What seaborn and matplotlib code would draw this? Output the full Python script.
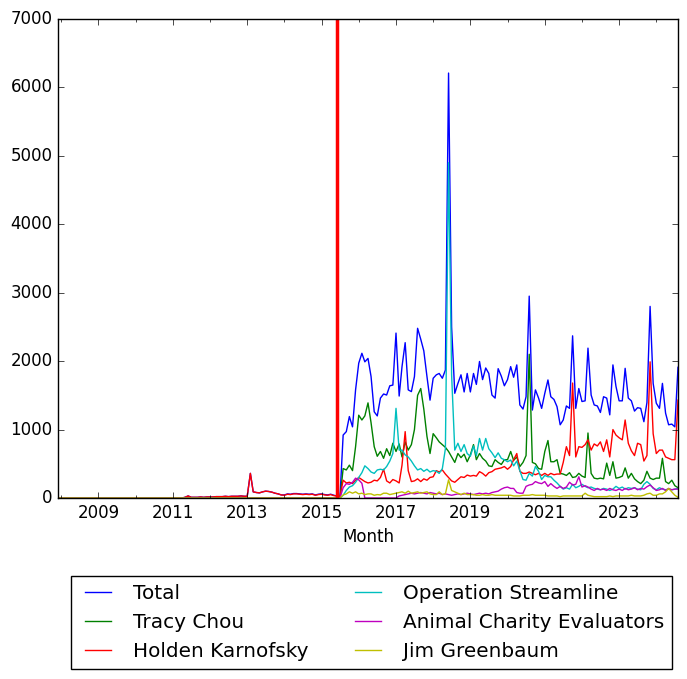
# Monthly donation totals by donor, with the event line in mid-2015

import matplotlib
matplotlib.use("Agg")
import matplotlib.pyplot as plt
import matplotlib.dates as mdates
import seaborn as sns
import pandas as pd

months = pd.date_range("2007-12-01", "2024-08-01", freq="MS")
event_date = pd.Timestamp("2015-06-01")

total = [
    0,  # 2007-12
    0, 0, 0, 0, 0, 0, 0, 0, 0, 0, 0, 0,  # 2008
    0, 0, 0, 0, 0, 0, 0, 0, 0, 0, 0, 0,  # 2009
    0, 0, 0, 0, 0, 0, 0, 0, 0, 0, 0, 0,  # 2010
    0, 0, 0, 0, 10, 30, 10, 10, 10, 15, 10, 15,  # 2011
    15, 15, 20, 20, 20, 25, 20, 25, 25, 25, 30, 25,  # 2012
    25, 360, 90, 80, 75, 90, 100, 95, 85, 70, 60, 45,  # 2013
    45, 60, 55, 65, 65, 60, 55, 60, 55, 60, 45, 55,  # 2014
    60, 50, 45, 55, 40, 30, 20, 920, 970, 1190, 1040, 1580,  # 2015
    1970, 2115, 1990, 2040, 1775, 1260, 1200, 1460, 1520, 1505, 1640, 1650,  # 2016
    2410, 1490, 1920, 2270, 1580, 1555, 1775, 2480, 2320, 2150, 1775, 1430,  # 2017
    1750, 1800, 1820, 1750, 1870, 6210, 2500, 1530, 1675, 1800, 1550, 1820,  # 2018
    1550, 1820, 1660, 1995, 1730, 1900, 1820, 1505, 1460, 1890, 1780, 1640,  # 2019
    1730, 1920, 1765, 1945, 1360, 1300, 1480, 2950, 1285, 1580, 1460, 1310,  # 2020
    1530, 1725, 1480, 1440, 1335, 1070, 1140, 1345, 1310, 2370, 1310, 1600,  # 2021
    1410, 1420, 2190, 1505, 1360, 1345, 1250, 1480, 1460, 1215, 1945, 1630,  # 2022
    1420, 1420, 1895, 1460, 1420, 1270, 1320, 1310, 1115, 1395, 2800, 1675,  # 2023
    1385, 1310, 1675, 1240, 1070, 1080, 1040, 1910,  # 2024
]

tracy_chou = [
    0,
    0, 0, 0, 0, 0, 0, 0, 0, 0, 0, 0, 0,
    0, 0, 0, 0, 0, 0, 0, 0, 0, 0, 0, 0,
    0, 0, 0, 0, 0, 0, 0, 0, 0, 0, 0, 0,
    0, 0, 0, 0, 0, 0, 0, 0, 0, 0, 0, 0,
    0, 0, 0, 0, 0, 0, 0, 0, 0, 0, 0, 0,
    0, 0, 0, 0, 0, 0, 0, 0, 0, 0, 0, 0,
    0, 0, 0, 0, 0, 0, 0, 0, 0, 0, 0, 0,
    0, 0, 0, 0, 0, 0, 0, 430, 410, 480, 400, 750,
    1210, 1140, 1200, 1390, 1100, 750, 610, 680, 580, 720, 620, 800,
    680, 790, 600, 820, 700, 780, 1000, 1500, 1600, 1300, 900, 650,
    940, 880, 820, 780, 740, 680, 600, 520, 650, 590, 640, 530,
    630, 780, 560, 650, 580, 540, 470, 460, 560, 520, 490, 560,
    560, 680, 550, 600, 460, 520, 620, 2100, 520, 500, 430, 420,
    680, 840, 530, 530, 560, 360, 350, 330, 370, 300, 310, 360,
    320, 300, 950, 360, 290, 280, 290, 280, 510, 330, 530, 290,
    300, 320, 440, 290, 360, 280, 240, 210, 260, 390, 290, 270,
    290, 290, 580, 240, 210, 260, 180, 150,
]

holden_karnofsky = [
    0,
    0, 0, 0, 0, 0, 0, 0, 0, 0, 0, 0, 0,
    0, 0, 0, 0, 0, 0, 0, 0, 0, 0, 0, 0,
    0, 0, 0, 0, 0, 0, 0, 0, 0, 0, 0, 0,
    0, 0, 0, 0, 10, 30, 10, 10, 10, 15, 10, 15,
    15, 15, 20, 20, 20, 25, 20, 25, 25, 25, 30, 25,
    25, 360, 90, 80, 75, 90, 100, 95, 85, 70, 60, 45,
    40, 55, 50, 60, 60, 55, 50, 55, 50, 55, 40, 50,
    55, 45, 40, 50, 35, 30, 20, 260, 220, 230, 210, 260,
    300, 270, 240, 220, 230, 260, 250, 300, 420, 250, 220, 270,
    250, 220, 480, 970, 400, 240, 250, 280, 240, 280, 260, 300,
    310, 400, 380, 410, 350, 300, 250, 230, 270, 310, 300, 335,
    320, 330, 320, 385, 360, 320, 370, 385, 420, 430, 440, 460,
    420, 460, 560, 650, 390, 360, 360, 380, 360, 340, 360, 330,
    360, 330, 360, 340, 350, 350, 520, 750, 620, 1680, 600, 750,
    740, 780, 850, 700, 790, 760, 820, 680, 850, 600, 1000, 920,
    880, 850, 1140, 800, 690, 620, 800, 780, 540, 620, 1990, 940,
    650, 700, 700, 600, 580, 560, 560, 1430,
]

operation_streamline = [
    0,
    0, 0, 0, 0, 0, 0, 0, 0, 0, 0, 0, 0,
    0, 0, 0, 0, 0, 0, 0, 0, 0, 0, 0, 0,
    0, 0, 0, 0, 0, 0, 0, 0, 0, 0, 0, 0,
    0, 0, 0, 0, 0, 0, 0, 0, 0, 0, 0, 0,
    0, 0, 0, 0, 0, 0, 0, 0, 0, 0, 0, 0,
    0, 0, 0, 0, 0, 0, 0, 0, 0, 0, 0, 0,
    0, 0, 0, 0, 0, 0, 0, 0, 0, 0, 0, 0,
    0, 0, 0, 0, 0, 0, 0, 40, 110, 160, 180, 230,
    300, 370, 470, 430, 380, 360, 410, 420, 410, 460, 540, 650,
    1310, 700, 700, 630, 600, 540, 470, 410, 430, 390, 420, 380,
    400, 390, 360, 430, 720, 4900, 1800, 700, 800, 680, 780, 650,
    610, 760, 620, 870, 700, 870, 720, 660, 590, 660, 580, 560,
    530, 555, 470, 540, 400, 270, 260, 360, 320, 460, 390, 270,
    330, 310, 310, 260, 220, 170, 130, 150, 130, 200, 150, 170,
    200, 170, 150, 160, 140, 130, 120, 140, 130, 110, 130, 170,
    140, 160, 130, 150, 140, 150, 130, 120, 200, 240, 200, 140,
    120, 150, 130, 120, 130, 120, 130, 140,
]

animal_charity_evaluators = [
    0,
    0, 0, 0, 0, 0, 0, 0, 0, 0, 0, 0, 0,
    0, 0, 0, 0, 0, 0, 0, 0, 0, 0, 0, 0,
    0, 0, 0, 0, 0, 0, 0, 0, 0, 0, 0, 0,
    0, 0, 0, 0, 0, 0, 0, 0, 0, 0, 0, 0,
    0, 0, 0, 0, 0, 0, 0, 0, 0, 0, 0, 0,
    0, 0, 0, 0, 0, 0, 0, 0, 0, 0, 0, 0,
    0, 0, 0, 0, 0, 0, 0, 0, 0, 0, 0, 0,
    0, 0, 0, 0, 0, 0, 0, 150, 210, 200, 230, 290,
    265, 215, 0, 0, 0, 0, 0, 0, 0, 0, 0, 0,
    0, 30, 40, 50, 60, 70, 60, 70, 80, 70, 60, 80,
    70, 60, 70, 50, 60, 50, 40, 50, 60, 50, 60, 70,
    60, 50, 60, 70, 60, 70, 60, 80, 90, 100, 130, 150,
    160, 140, 140, 80, 70, 70, 170, 190, 200, 240, 220, 210,
    240, 170, 210, 170, 140, 170, 140, 160, 230, 190, 200, 310,
    160, 180, 160, 130, 110, 140, 120, 130, 110, 140, 120, 110,
    130, 110, 140, 120, 130, 150, 120, 140, 130, 165, 190, 150,
    110, 120, 140, 110, 140, 120, 130, 130,
]

jim_greenbaum = [
    0,
    0, 0, 0, 0, 0, 0, 0, 0, 0, 0, 0, 0,
    0, 0, 0, 0, 0, 0, 0, 0, 0, 0, 0, 0,
    0, 0, 0, 0, 0, 0, 0, 0, 0, 0, 0, 0,
    0, 0, 0, 0, 0, 0, 0, 0, 0, 0, 0, 0,
    0, 0, 0, 0, 0, 0, 0, 0, 0, 0, 0, 0,
    0, 0, 0, 0, 0, 0, 0, 0, 0, 0, 0, 0,
    0, 0, 0, 0, 0, 0, 0, 0, 0, 0, 0, 0,
    0, 0, 0, 0, 0, 0, 0, 45, 60, 90, 70, 90,
    60, 70, 50, 60, 60, 40, 50, 45, 70, 70, 50, 60,
    70, 80, 90, 70, 100, 70, 80, 90, 70, 80, 90, 60,
    50, 50, 90, 50, 60, 265, 110, 90, 70, 50, 70, 50,
    50, 50, 40, 40, 50, 40, 40, 50, 40, 40, 40, 40,
    40, 40, 30, 30, 30, 40, 40, 40, 50, 40, 40, 40,
    40, 30, 30, 30, 30, 20, 30, 30, 30, 30, 30, 30,
    30, 70, 40, 30, 20, 20, 20, 20, 20, 30, 20, 30,
    30, 30, 30, 30, 40, 30, 30, 30, 40, 60, 70, 40,
    40, 60, 60, 90, 140, 90, 40, 10,
]

series_names = ["Total", "Tracy Chou", "Holden Karnofsky", "Operation Streamline",
                "Animal Charity Evaluators", "Jim Greenbaum"]
series_values = [total, tracy_chou, holden_karnofsky, operation_streamline,
                 animal_charity_evaluators, jim_greenbaum]
colors = ["b", "g", "r", "c", "m", "y"]

plt.style.use("classic")
plt.rcParams["font.family"] = ["DejaVu Sans"]

fig = plt.figure(figsize=(6.87, 6.79), dpi=100, facecolor="white")
ax = fig.add_axes([58 / 687, 1 - 498 / 679, 620 / 687, 479 / 679])

for name, vals, col in zip(series_names, series_values, colors):
    sns.lineplot(x=months, y=vals, color=col, label=name, linewidth=1.0, ax=ax)

ax.axvline(event_date, color="r", linewidth=2.5)

ax.set_xlim(months[0], months[-1])
ax.set_ylim(0, 7000)
ax.set_yticks(range(0, 7001, 1000))
ax.set_xticks(pd.to_datetime([f"{y}-01-01" for y in range(2009, 2025, 2)]))
ax.xaxis.set_major_formatter(mdates.DateFormatter("%Y"))
ax.xaxis.set_minor_locator(mdates.YearLocator(1))
ax.set_xlabel("Month", fontsize=12)
ax.set_ylabel("")

ax.legend(loc="upper center", bbox_to_anchor=(0.506, -0.141), ncol=2,
          fontsize=14.4, handlelength=1.9, frameon=True)

plt.savefig("out.png", dpi=100, facecolor="white")
plt.close()
